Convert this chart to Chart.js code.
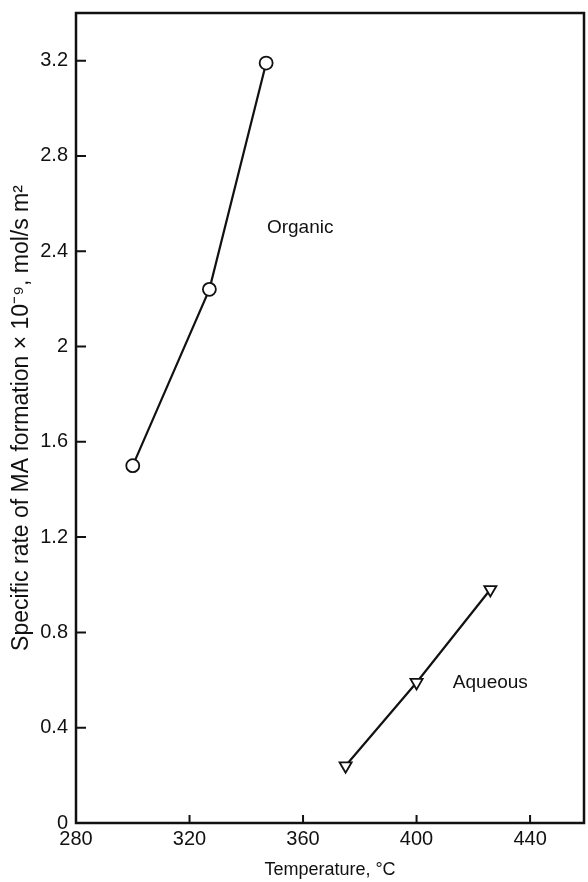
<!DOCTYPE html>
<html>
<head>
<meta charset="utf-8">
<script src="https://cdn.jsdelivr.net/npm/chart.js@4/dist/chart.umd.min.js"></script>
<style>
  html, body { margin: 0; padding: 0; background: #fff; }
  canvas { display: block; }
</style>
</head>
<body>
<canvas id="chart" width="588" height="882"></canvas>
<script>
// data
const organicTemp = [300, 327, 347];
const organicRate = [1.50, 2.24, 3.19];
const aqueousTemp = [375, 400, 426];
const aqueousRate = [0.24, 0.59, 0.98];

const xTicks = [280, 320, 360, 400, 440];
const yTicks = [0, 0.4, 0.8, 1.2, 1.6, 2, 2.4, 2.8, 3.2];

const seriesNames = ['Organic', 'Aqueous'];
const labelTemp = [359, 426];
const labelRate = [2.50, 0.59];

const FONT = "'Liberation Sans', Arial, sans-serif";
const INK = '#111';

const toPoints = (xs, ys) => xs.map((x, i) => ({ x: x, y: ys[i] }));

// white page, box frame, inward ticks, series labels
const paperPlugin = {
    id: 'paper',
    beforeDraw(chart) {
        const ctx = chart.ctx;
        ctx.save();
        ctx.fillStyle = '#fff';
        ctx.fillRect(0, 0, chart.width, chart.height);
        ctx.restore();
    },
    afterDatasetsDraw(chart) {
        const { ctx, chartArea: a, scales } = chart;
        ctx.save();
        ctx.strokeStyle = INK;
        ctx.lineWidth = 2.5;
        ctx.strokeRect(a.left, a.top, a.right - a.left, a.bottom - a.top);

        ctx.lineWidth = 2;
        ctx.beginPath();
        scales.x.ticks.forEach(t => {
            const px = scales.x.getPixelForValue(t.value);
            ctx.moveTo(px, a.bottom);
            ctx.lineTo(px, a.bottom - 8);
        });
        scales.y.ticks.forEach(t => {
            const py = scales.y.getPixelForValue(t.value);
            ctx.moveTo(a.left, py);
            ctx.lineTo(a.left + 10, py);
        });
        ctx.stroke();

        ctx.fillStyle = INK;
        ctx.font = '19px ' + FONT;
        ctx.textAlign = 'center';
        ctx.textBaseline = 'middle';
        seriesNames.forEach((name, i) => {
            ctx.fillText(name, scales.x.getPixelForValue(labelTemp[i]), scales.y.getPixelForValue(labelRate[i]));
        });
        ctx.restore();
    }
};

new Chart(document.getElementById('chart').getContext('2d'), {
    type: 'scatter',
    data: {
        datasets: [{
            label: seriesNames[0],
            data: toPoints(organicTemp, organicRate),
            showLine: true,
            borderColor: INK,
            borderWidth: 2.2,
            pointStyle: 'circle',
            pointRadius: 6.5,
            pointBorderWidth: 1.8,
            pointBorderColor: INK,
            pointBackgroundColor: '#fff'
        }, {
            label: seriesNames[1],
            data: toPoints(aqueousTemp, aqueousRate),
            showLine: true,
            borderColor: INK,
            borderWidth: 2.2,
            pointStyle: 'triangle',
            pointRotation: 180,
            pointRadius: 7,
            pointBorderWidth: 1.8,
            pointBorderColor: INK,
            pointBackgroundColor: '#fff'
        }]
    },
    options: {
        responsive: false,
        animation: false,
        layout: { autoPadding: false, padding: { top: 13, right: 4, left: 0, bottom: 0 } },
        plugins: {
            legend: { display: false },
            tooltip: { enabled: false }
        },
        scales: {
            x: {
                type: 'linear',
                min: 280,
                max: 459,
                afterBuildTicks: s => { s.ticks = xTicks.map(v => ({ value: v })); },
                afterFit: s => {
                    s.height = 59;
                    s.paddingLeft = 0;
                    s.paddingRight = 0;
                },
                grid: { display: false, drawTicks: false },
                border: { display: false },
                ticks: {
                    padding: 4,
                    color: INK,
                    font: { family: FONT, size: 20 }
                },
                title: {
                    display: true,
                    text: 'Temperature, °C',
                    color: INK,
                    font: { family: FONT, size: 18 },
                    padding: { top: 0, bottom: 1 }
                }
            },
            y: {
                type: 'linear',
                min: 0,
                max: 3.4,
                afterBuildTicks: s => { s.ticks = yTicks.map(v => ({ value: v })); },
                afterFit: s => {
                    s.width = 76;
                    s.paddingTop = 0;
                    s.paddingBottom = 0;
                },
                grid: { display: false, drawTicks: false },
                border: { display: false },
                ticks: {
                    padding: 8,
                    color: INK,
                    font: { family: FONT, size: 20 },
                    callback: v => String(v)
                },
                title: {
                    display: true,
                    text: 'Specific rate of MA formation × 10⁻⁹, mol/s m²',
                    color: INK,
                    font: { family: FONT, size: 23 },
                    padding: { top: 8, bottom: 0 }
                }
            }
        }
    },
    plugins: [paperPlugin]
});
</script>
</body>
</html>
